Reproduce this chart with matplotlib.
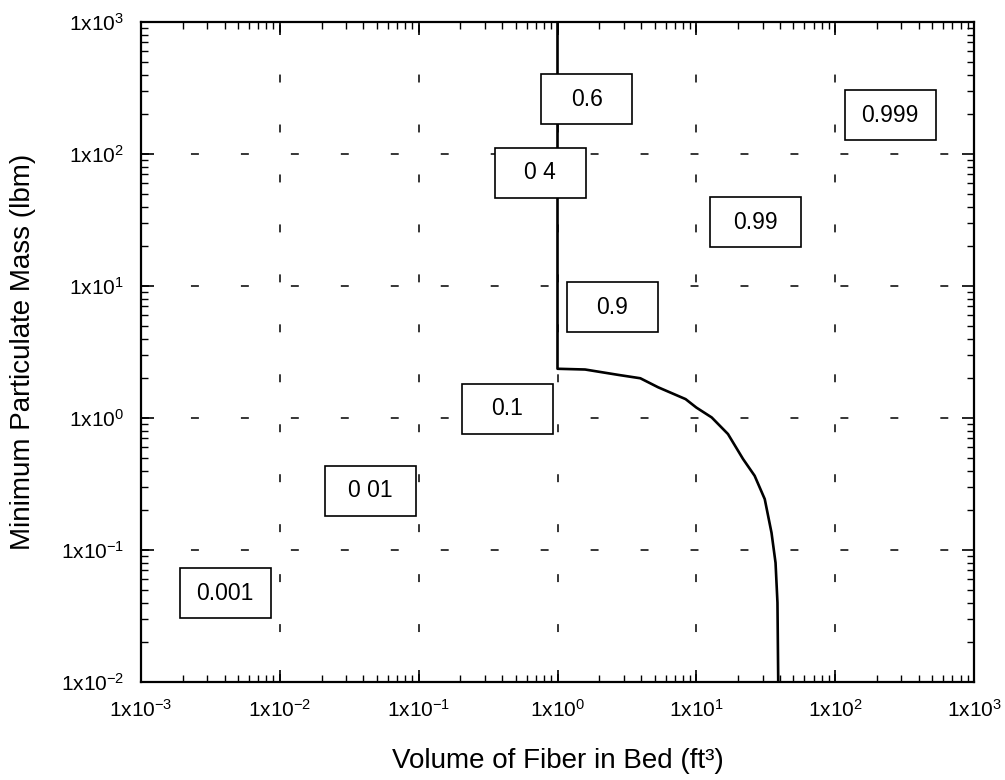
import matplotlib
matplotlib.use("Agg")
import matplotlib.pyplot as plt
import matplotlib.transforms as mtransforms
from matplotlib.patches import Rectangle
from matplotlib.ticker import LogLocator, NullFormatter

# ---- data ----
# boundary curve (volume ft^3, particulate mass lbm)
curve_x = [1.0, 1.0, 1.58, 2.75, 3.95, 5.30, 8.37, 10.0, 12.9, 16.9, 21.7, 26.3, 31.1, 34.8, 37.2, 38.4, 38.9]
curve_y = [1000.0, 2.36, 2.33, 2.12, 2.00, 1.71, 1.39, 1.20, 1.01, 0.756, 0.489, 0.365, 0.243, 0.135, 0.080, 0.040, 0.01]

# probability labels and where they sit (data coordinates)
box_labels = ["0.6", "0 4", "0.999", "0.99", "0.9", "0.1", "0 01", "0.001"]
box_x = [1.63, 0.75, 249.0, 26.5, 2.47, 0.434, 0.0447, 0.00403]
box_y = [261.0, 71.8, 197.0, 30.5, 6.93, 1.17, 0.28, 0.0472]

x_ticks = [1e-3, 1e-2, 1e-1, 1e0, 1e1, 1e2, 1e3]
x_tick_labels = ["1x10$^{-3}$", "1x10$^{-2}$", "1x10$^{-1}$", "1x10$^{0}$",
                 "1x10$^{1}$", "1x10$^{2}$", "1x10$^{3}$"]
y_ticks = [1e-2, 1e-1, 1e0, 1e1, 1e2, 1e3]
y_tick_labels = ["1x10$^{-2}$", "1x10$^{-1}$", "1x10$^{0}$",
                 "1x10$^{1}$", "1x10$^{2}$", "1x10$^{3}$"]

x_label = "Volume of Fiber in Bed (ft\u00b3)"
y_label = "Minimum Particulate Mass (lbm)"

# ---- style ----
plt.rcParams['font.family'] = ['Liberation Sans', 'DejaVu Sans']
plt.rcParams['mathtext.fontset'] = 'custom'
plt.rcParams['mathtext.rm'] = 'Liberation Sans'
plt.rcParams['mathtext.it'] = 'Liberation Sans:italic'
plt.rcParams['mathtext.bf'] = 'Liberation Sans:bold'
plt.rcParams['mathtext.default'] = 'regular'

fig = plt.figure(figsize=(10.05, 7.8), dpi=100)
W, H = 1005, 780
ax = fig.add_axes([141 / W, 1 - 682 / H, (974 - 141) / W, (682 - 22) / H])

ax.set_xscale('log')
ax.set_yscale('log')
ax.set_xlim(1e-3, 1e3)
ax.set_ylim(1e-2, 1e3)

ax.plot(curve_x, curve_y, color='black', linewidth=1.9, solid_joinstyle='round', zorder=3)

# grid
ax.grid(True, which='major', color='black', linewidth=1.1, linestyle=(0, (5.2, 27.5)))
ax.set_axisbelow(True)

# ticks
ax.set_xticks(x_ticks)
ax.set_xticklabels(x_tick_labels)
ax.set_yticks(y_ticks)
ax.set_yticklabels(y_tick_labels)
ax.xaxis.set_minor_locator(LogLocator(base=10, subs=range(2, 10), numticks=20))
ax.yaxis.set_minor_locator(LogLocator(base=10, subs=range(2, 10), numticks=20))
ax.xaxis.set_minor_formatter(NullFormatter())
ax.yaxis.set_minor_formatter(NullFormatter())
ax.tick_params(which='both', direction='in', top=True, right=True, color='black')
ax.tick_params(which='major', length=9, width=1.2, labelsize=15, pad=12)
ax.tick_params(which='minor', length=5, width=1.0)
for s in ax.spines.values():
    s.set_linewidth(1.6)

ax.set_xlabel(x_label, fontsize=20)
ax.set_ylabel(y_label, fontsize=20)
ax.xaxis.set_label_coords(0.5, -0.100)
ax.yaxis.set_label_coords(-0.126, 0.5)

# labelled boxes of fixed size
bw, bh = 0.91, 0.50  # inches
for lab, bx, by in zip(box_labels, box_x, box_y):
    tr = fig.dpi_scale_trans + mtransforms.ScaledTranslation(bx, by, ax.transData)
    rect = Rectangle((-bw / 2, -bh / 2), bw, bh, transform=tr, facecolor='white',
                     edgecolor='black', linewidth=1.2, zorder=4, clip_on=False)
    ax.add_patch(rect)
    ax.text(bx, by, lab, ha='center', va='center', fontsize=16.5, zorder=5)

fig.savefig('out.png', dpi=100)
